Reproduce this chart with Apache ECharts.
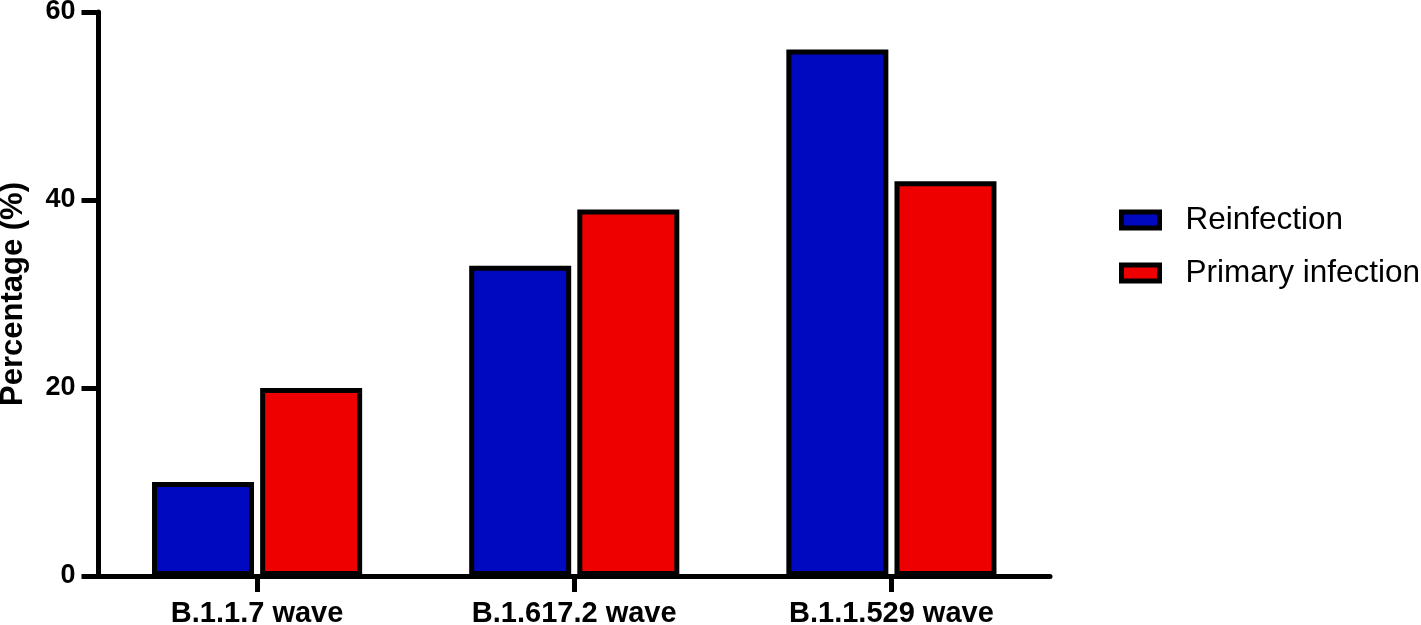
<!DOCTYPE html>
<html>
<head>
<meta charset="utf-8">
<script src="https://cdn.jsdelivr.net/npm/echarts@6/dist/echarts.min.js"></script>
<style>
html,body{margin:0;padding:0;background:#fff;}
#chart{width:1421px;height:625px;}
</style>
</head>
<body>
<div id="chart"></div>
<script>
var categories = ['B.1.1.7 wave', 'B.1.617.2 wave', 'B.1.1.529 wave'];
var reinfection = [10, 33, 56];
var primaryInfection = [20, 39, 42];
var seriesNames = ['Reinfection', 'Primary infection'];
var yTicks = [0, 20, 40, 60];

var FONT = '"Liberation Sans", Arial, Helvetica, sans-serif';
var chart = echarts.init(document.getElementById('chart'), null, {renderer: 'canvas'});
chart.setOption({
  animation: false,
  backgroundColor: '#ffffff',
  textStyle: {fontFamily: FONT},
  grid: {left: 98.5, right: 371, top: 12, bottom: 49, containLabel: false, outerBoundsMode: 'none'},
  legend: {
    orient: 'vertical',
    left: 1114,
    top: 199,
    itemWidth: 38,
    itemHeight: 16,
    itemGap: 21,
    icon: 'rect',
    itemStyle: {borderColor: '#000', borderWidth: 5},
    textStyle: {fontFamily: FONT, fontSize: 31.5, color: '#000', padding: [0, 0, 0, 21]},
    data: seriesNames
  },
  xAxis: {
    type: 'category',
    data: categories,
    axisLine: {lineStyle: {color: '#000', width: 5}},
    axisTick: {show: true, alignWithLabel: true, length: 16, lineStyle: {color: '#000', width: 5}},
    axisLabel: {fontFamily: FONT, fontWeight: 'bold', fontSize: 29, color: '#000', margin: 23},
    splitLine: {show: false}
  },
  yAxis: {
    type: 'value',
    min: yTicks[0],
    max: yTicks[yTicks.length - 1],
    interval: yTicks[1] - yTicks[0],
    name: 'Percentage (%)',
    nameLocation: 'middle',
    nameRotate: 90,
    nameGap: 70,
    nameTextStyle: {fontFamily: FONT, fontWeight: 'bold', fontSize: 31, color: '#000'},
    axisLine: {show: true, lineStyle: {color: '#000', width: 5}},
    axisTick: {show: true, length: 17, lineStyle: {color: '#000', width: 5}},
    axisLabel: {fontFamily: FONT, fontWeight: 'bold', fontSize: 27, color: '#000', margin: 23},
    splitLine: {show: false}
  },
  series: [
    {
      name: seriesNames[0],
      type: 'bar',
      data: reinfection,
      barWidth: 102,
      barGap: '6%',
      itemStyle: {color: '#0008C0', borderColor: '#000', borderWidth: 5}
    },
    {
      name: seriesNames[1],
      type: 'bar',
      data: primaryInfection,
      barWidth: 102,
      barGap: '6%',
      itemStyle: {color: '#EE0000', borderColor: '#000', borderWidth: 5}
    }
  ]
});
</script>
</body>
</html>
